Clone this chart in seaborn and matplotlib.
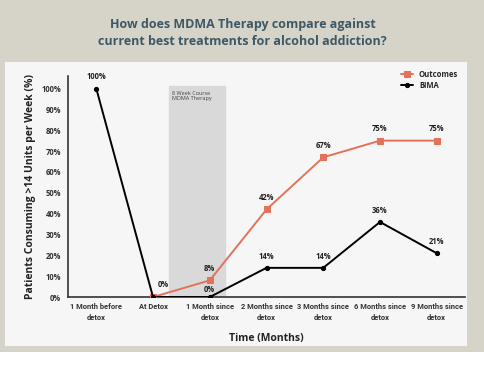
import seaborn as sns
import pandas as pd
import numpy as np
import matplotlib.pyplot as plt
from matplotlib.patches import Rectangle
from matplotlib.ticker import PercentFormatter

sns.set_style('white')
plt.rcParams['font.family'] = ['Open Sans', 'DejaVu Sans']

# data
times = ['1 Month before\ndetox', 'At Detox', '1 Month since\ndetox', '2 Months since\ndetox',
         '3 Months since\ndetox', '6 Months since\ndetox', '9 Months since\ndetox']
outcomes = [np.nan, 0, 8, 42, 67, 75, 75]
bima = [100, 0, 0, 14, 14, 36, 21]
therapy_span = [1.28, 2.27]

df = pd.DataFrame({'x': range(len(times)), 'Outcomes': outcomes, 'BIMA': bima})

fig = plt.figure(figsize=(4.85, 3.69), dpi=100)
fig.patch.set_facecolor('#d6d4c9')
fig.patches.append(Rectangle((0.010, 0.062), 0.953, 0.770, transform=fig.transFigure,
                             facecolor='#f6f6f6', edgecolor='none', zorder=-5))
fig.patches.append(Rectangle((0, 0), 1, 0.045, transform=fig.transFigure,
                             facecolor='white', edgecolor='none', zorder=-5))

ax = fig.add_axes([0.140, 0.195, 0.819, 0.599])
ax.set_facecolor('none')
ax.set_zorder(2)

orange = '#e2725a'
ax.axvspan(therapy_span[0], therapy_span[1], ymin=0, ymax=101 / 106, color='#d9d9d9', zorder=0)
ax.text(therapy_span[0] + 0.05, 99, '8 Week Course\nMDMA Therapy', fontsize=4, color='#444444',
        va='top', ha='left')

sns.lineplot(data=df, x='x', y='Outcomes', ax=ax, color=orange, marker='s', markersize=4,
             markeredgecolor=orange, linewidth=1.4, label='Outcomes', zorder=3)
sns.lineplot(data=df, x='x', y='BIMA', ax=ax, color='black', marker='o', markersize=3,
             markeredgecolor='black', linewidth=1.4, label='BIMA', zorder=3)

lab = dict(fontsize=5.5, fontweight='bold', color='#222222', ha='center')
for i, v in enumerate(outcomes):
    if np.isnan(v) or i == 1:
        continue
    ax.text(i, v + 3.5, f'{v:.0f}%', va='bottom', **lab)
for i, v in enumerate(bima):
    if i == 1:
        ax.text(i + 0.18, v + 4, f'{v:.0f}%', va='bottom', **lab)
    elif i == 2:
        ax.text(i, v + 1.5, f'{v:.0f}%', va='bottom', **lab)
    else:
        ax.text(i, v + 3.5, f'{v:.0f}%', va='bottom', **lab)

ax.set_xlim(-0.5, len(times) - 0.5)
ax.set_ylim(0, 106)
ax.set_yticks(range(0, 101, 10))
ax.yaxis.set_major_formatter(PercentFormatter(decimals=0))
ax.set_xticks(range(len(times)))
ax.set_xticklabels(times, family=['Roboto', 'DejaVu Sans'])
ax.set_xticks(np.arange(-0.5, len(times), 1), minor=True)
ax.tick_params(axis='x', which='major', length=0, labelsize=5.4, pad=4)
ax.tick_params(axis='x', which='minor', length=3, direction='in', width=1)
ax.tick_params(axis='y', length=3, direction='out', width=1, labelsize=5.5, pad=2)
for t in ax.get_xticklabels() + ax.get_yticklabels():
    t.set_fontweight('bold')
    t.set_color('#333333')
for t in ax.get_xticklabels():
    t.set_linespacing(1.5)

sns.despine(ax=ax)
for s in ['left', 'bottom']:
    ax.spines[s].set_color('#333333')
    ax.spines[s].set_linewidth(1.2)

ax.set_xlabel('Time (Months)', fontsize=7.5, fontweight='bold', color='#222222', labelpad=8)
ax.set_ylabel('Patients Consuming >14 Units per Week (%)', fontsize=7.5, fontweight='bold',
              color='#222222', labelpad=4)

ax.legend(loc='upper right', bbox_to_anchor=(1.0, 1.06), frameon=False,
          handlelength=1.6, labelspacing=0.3, prop={'weight': 'bold', 'size': 5.5})

fig.text(0.5, 0.91, 'How does MDMA Therapy compare against\ncurrent best treatments for alcohol addiction?',
         ha='center', va='center', fontsize=9, fontweight='bold', color='#3e5866', linespacing=1.35)

fig.savefig('out.png', dpi=100, facecolor=fig.get_facecolor())
